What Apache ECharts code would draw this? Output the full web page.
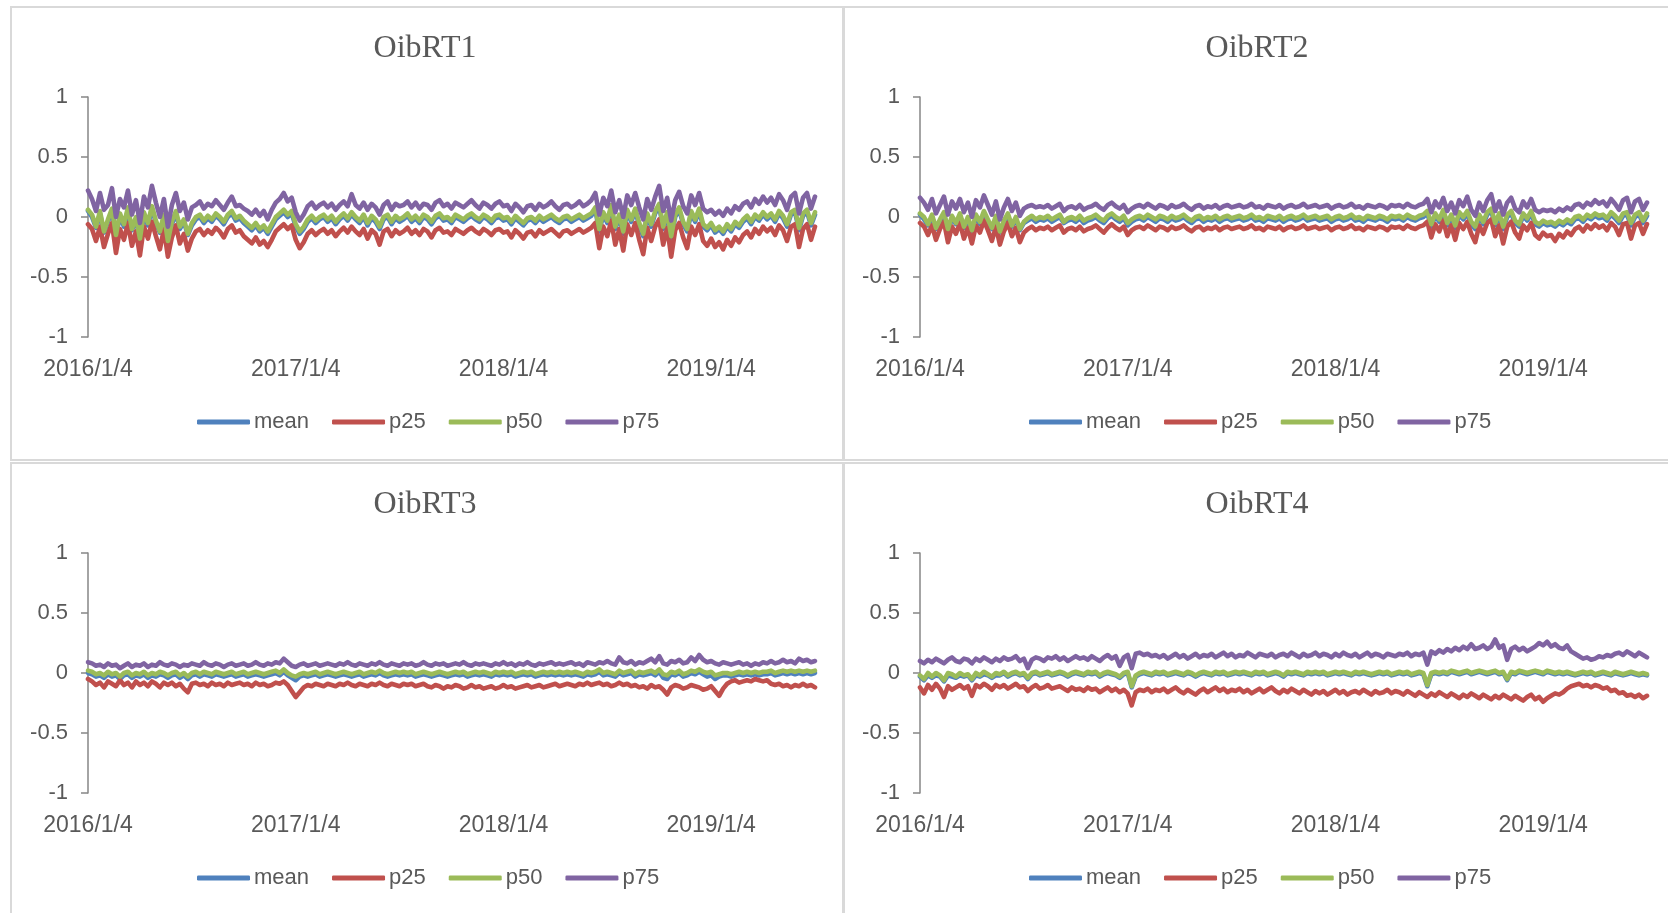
<!DOCTYPE html>
<html><head><meta charset="utf-8">
<script src="https://cdn.jsdelivr.net/npm/echarts@6/dist/echarts.min.js"></script>
<style>html,body{margin:0;padding:0;background:#fff}#c{width:1668px;height:913px}</style>
</head><body><div id="c"></div>
<script>
// ---- axis labels ----
const tickLabels = ['2016/1/4', '2017/1/4', '2018/1/4', '2019/1/4'];
const seriesNames = ['mean', 'p25', 'p50', 'p75'];
const panelTitles = ['OibRT1', 'OibRT2', 'OibRT3', 'OibRT4'];
// weekly sampling dates, anchored on Jan 4 of each year
const categories = [];
[2016, 2017, 2018, 2019].forEach(function (yr) {
  const n = yr === 2019 ? 27 : 52;
  for (let k = 0; k < n; k++) {
    const d = new Date(Date.UTC(yr, 0, 4 + 7 * k));
    categories.push(d.getUTCFullYear() + '/' + (d.getUTCMonth() + 1) + '/' + d.getUTCDate());
  }
});

// ---- OibRT1 ----
const oib1_mean = [
0.05,0.0,-0.09,0.03,-0.13,-0.04,0.05,-0.16,0.01,-0.08,0.06,-0.11,-0.02,-0.19,0.02,-0.07,0.07,-0.05,-0.13,0.0,
-0.21,-0.06,0.03,-0.1,-0.04,-0.15,-0.07,-0.02,0.0,-0.05,-0.01,-0.04,0.01,-0.02,-0.06,0.0,0.03,-0.03,-0.01,-0.05,
-0.08,-0.11,-0.07,-0.12,-0.09,-0.14,-0.08,-0.02,0.01,0.04,0.0,0.03,-0.08,-0.14,-0.1,-0.04,-0.01,-0.05,-0.02,0.0,
-0.04,-0.01,-0.06,-0.02,0.01,-0.03,0.02,-0.02,-0.05,0.0,-0.07,-0.01,-0.04,-0.1,-0.02,0.0,-0.06,-0.01,-0.04,-0.02,
0.01,-0.04,-0.01,-0.05,0.0,-0.02,-0.06,-0.01,0.01,-0.03,-0.02,-0.05,0.0,-0.02,-0.04,-0.01,0.01,-0.02,-0.04,0.0,
-0.02,-0.05,-0.01,0.0,-0.03,-0.02,-0.06,-0.01,-0.04,-0.07,-0.03,-0.02,-0.05,-0.01,-0.04,-0.02,0.0,-0.03,-0.05,-0.02,
-0.01,-0.04,-0.02,0.0,-0.03,-0.01,0.01,0.06,-0.12,0.02,-0.05,0.08,-0.1,0.0,-0.14,0.04,-0.04,0.05,-0.07,-0.16,
0.01,-0.08,0.03,0.09,-0.1,0.02,-0.18,0.0,0.06,-0.06,-0.12,0.03,-0.04,0.05,-0.08,-0.11,-0.07,-0.13,-0.1,-0.14,
-0.08,-0.12,-0.06,-0.09,-0.04,-0.01,-0.06,0.0,-0.03,0.02,-0.02,0.01,-0.04,0.03,-0.01,-0.08,0.02,0.04,-0.11,0.01,
0.04,-0.07,0.02];
const oib1_p25 = [
-0.06,-0.1,-0.2,-0.08,-0.25,-0.14,-0.05,-0.3,-0.1,-0.19,-0.05,-0.24,-0.12,-0.32,-0.08,-0.18,-0.04,-0.16,-0.27,-0.1,
-0.33,-0.17,-0.07,-0.22,-0.14,-0.28,-0.18,-0.12,-0.1,-0.15,-0.11,-0.14,-0.09,-0.12,-0.17,-0.1,-0.07,-0.13,-0.11,-0.16,
-0.19,-0.22,-0.17,-0.23,-0.2,-0.25,-0.19,-0.12,-0.09,-0.06,-0.1,-0.07,-0.19,-0.26,-0.21,-0.14,-0.11,-0.15,-0.12,-0.1,
-0.14,-0.11,-0.16,-0.12,-0.09,-0.13,-0.08,-0.12,-0.15,-0.1,-0.18,-0.11,-0.14,-0.23,-0.12,-0.1,-0.16,-0.11,-0.14,-0.12,
-0.09,-0.14,-0.11,-0.15,-0.1,-0.12,-0.17,-0.11,-0.09,-0.13,-0.12,-0.15,-0.1,-0.12,-0.14,-0.11,-0.09,-0.12,-0.14,-0.1,
-0.12,-0.15,-0.11,-0.1,-0.13,-0.12,-0.17,-0.11,-0.14,-0.18,-0.13,-0.12,-0.16,-0.11,-0.14,-0.12,-0.1,-0.13,-0.16,-0.12,
-0.11,-0.14,-0.12,-0.1,-0.13,-0.11,-0.09,-0.05,-0.26,-0.08,-0.16,-0.03,-0.23,-0.1,-0.28,-0.06,-0.15,-0.05,-0.19,-0.31,
-0.09,-0.2,-0.08,-0.02,-0.23,-0.09,-0.33,-0.11,-0.05,-0.17,-0.26,-0.08,-0.15,-0.06,-0.2,-0.24,-0.18,-0.25,-0.21,-0.27,
-0.19,-0.24,-0.17,-0.21,-0.15,-0.12,-0.17,-0.1,-0.14,-0.08,-0.12,-0.09,-0.15,-0.07,-0.11,-0.2,-0.08,-0.06,-0.25,-0.1,
-0.06,-0.19,-0.08];
const oib1_p50 = [
0.06,0.02,-0.08,0.05,-0.12,-0.02,0.07,-0.15,0.03,-0.06,0.08,-0.1,0.0,-0.18,0.04,-0.05,0.09,-0.03,-0.12,0.02,
-0.2,-0.04,0.05,-0.08,-0.02,-0.14,-0.05,0.0,0.02,-0.03,0.01,-0.02,0.03,0.0,-0.04,0.02,0.05,-0.01,0.01,-0.03,
-0.06,-0.09,-0.05,-0.1,-0.07,-0.12,-0.06,0.0,0.03,0.06,0.02,0.05,-0.06,-0.12,-0.08,-0.02,0.01,-0.03,0.0,0.02,
-0.02,0.01,-0.04,0.0,0.03,-0.01,0.04,0.0,-0.03,0.02,-0.05,0.01,-0.02,-0.08,0.0,0.02,-0.04,0.01,-0.02,0.0,
0.03,-0.02,0.01,-0.03,0.02,0.0,-0.04,0.01,0.03,-0.01,0.0,-0.03,0.02,0.0,-0.02,0.01,0.03,0.0,-0.02,0.02,
0.0,-0.03,0.01,0.02,-0.01,0.0,-0.04,0.01,-0.02,-0.05,-0.01,0.0,-0.03,0.01,-0.02,0.0,0.02,-0.01,-0.03,0.0,
0.01,-0.02,0.0,0.02,-0.01,0.01,0.03,0.08,-0.1,0.04,-0.03,0.1,-0.08,0.02,-0.12,0.06,-0.02,0.07,-0.05,-0.14,
0.03,-0.06,0.05,0.11,-0.08,0.04,-0.16,0.02,0.08,-0.04,-0.1,0.05,-0.02,0.07,-0.06,-0.09,-0.05,-0.11,-0.08,-0.12,
-0.06,-0.1,-0.04,-0.07,-0.02,0.01,-0.04,0.02,-0.01,0.04,0.0,0.03,-0.02,0.05,0.01,-0.06,0.04,0.06,-0.09,0.03,
0.06,-0.05,0.04];
const oib1_p75 = [
0.22,0.15,0.05,0.2,0.06,0.1,0.24,0.0,0.15,0.08,0.22,0.02,0.14,-0.05,0.17,0.08,0.26,0.12,0.0,0.15,
-0.08,0.1,0.2,0.05,0.12,-0.02,0.08,0.1,0.13,0.07,0.11,0.09,0.14,0.1,0.06,0.12,0.17,0.09,0.1,0.07,
0.05,0.02,0.06,0.01,0.05,-0.02,0.06,0.12,0.15,0.2,0.13,0.16,0.04,-0.03,0.02,0.09,0.12,0.07,0.1,0.12,
0.08,0.11,0.06,0.1,0.13,0.09,0.19,0.1,0.07,0.12,0.06,0.11,0.08,0.02,0.1,0.13,0.06,0.11,0.09,0.1,
0.13,0.08,0.12,0.07,0.11,0.1,0.06,0.12,0.14,0.09,0.11,0.07,0.12,0.1,0.08,0.11,0.14,0.1,0.07,0.12,
0.1,0.07,0.11,0.13,0.09,0.1,0.05,0.11,0.08,0.04,0.09,0.1,0.06,0.11,0.08,0.1,0.13,0.09,0.06,0.1,
0.11,0.08,0.1,0.13,0.09,0.11,0.14,0.2,0.02,0.16,0.09,0.22,0.04,0.14,0.0,0.18,0.1,0.2,0.08,-0.02,
0.15,0.06,0.17,0.26,0.05,0.16,-0.03,0.14,0.21,0.09,0.03,0.18,0.1,0.2,0.07,0.04,0.06,0.02,0.05,0.01,
0.07,0.03,0.09,0.06,0.11,0.13,0.08,0.15,0.11,0.17,0.12,0.16,0.1,0.19,0.14,0.06,0.17,0.2,0.03,0.16,
0.2,0.07,0.17];

// ---- OibRT2 ----
const oib2_mean = [
0.02,-0.02,-0.07,0.0,-0.1,-0.04,0.02,-0.11,-0.01,-0.06,0.01,-0.09,-0.02,-0.12,0.0,-0.06,0.03,-0.04,-0.1,-0.01,
-0.13,-0.05,0.01,-0.08,-0.02,-0.11,-0.05,-0.03,-0.01,-0.04,-0.02,-0.03,-0.01,-0.04,-0.02,0.0,-0.05,-0.03,-0.02,-0.04,
-0.01,-0.05,-0.03,-0.02,0.0,-0.03,-0.05,-0.01,0.01,-0.02,-0.04,-0.01,-0.07,-0.04,-0.02,-0.01,-0.03,0.0,-0.02,-0.04,
-0.01,-0.02,-0.04,-0.01,-0.03,-0.02,0.0,-0.03,-0.05,-0.02,-0.01,-0.04,-0.02,-0.03,-0.01,-0.04,-0.02,-0.01,-0.03,-0.02,
-0.01,-0.03,-0.02,0.0,-0.03,-0.02,-0.04,-0.01,-0.02,-0.03,-0.01,-0.04,-0.02,-0.01,-0.03,-0.02,0.0,-0.03,-0.02,-0.01,
-0.03,-0.02,-0.01,-0.04,-0.02,-0.01,-0.03,-0.02,0.0,-0.03,-0.02,-0.04,-0.01,-0.02,-0.03,-0.01,-0.02,-0.04,-0.01,-0.02,
-0.01,-0.03,0.0,-0.02,-0.03,-0.01,0.0,0.03,-0.08,0.01,-0.04,0.04,-0.07,0.0,-0.09,0.02,-0.02,0.03,-0.06,-0.1,
0.0,-0.06,0.02,0.05,-0.07,0.01,-0.1,0.0,0.03,-0.05,-0.08,0.01,-0.03,0.03,-0.06,-0.08,-0.05,-0.07,-0.06,-0.08,
-0.05,-0.07,-0.04,-0.06,-0.02,-0.01,-0.04,0.0,-0.02,0.01,-0.01,0.0,-0.03,0.02,-0.01,-0.05,0.01,0.02,-0.07,0.0,
0.02,-0.05,0.01];
const oib2_p25 = [
-0.05,-0.08,-0.15,-0.07,-0.19,-0.1,-0.04,-0.21,-0.08,-0.14,-0.05,-0.18,-0.09,-0.22,-0.07,-0.13,-0.03,-0.11,-0.2,-0.08,
-0.23,-0.12,-0.05,-0.16,-0.09,-0.21,-0.13,-0.1,-0.08,-0.11,-0.09,-0.1,-0.08,-0.11,-0.09,-0.07,-0.13,-0.1,-0.09,-0.11,
-0.08,-0.12,-0.1,-0.09,-0.07,-0.1,-0.13,-0.09,-0.06,-0.09,-0.11,-0.08,-0.15,-0.11,-0.09,-0.08,-0.1,-0.07,-0.09,-0.11,
-0.08,-0.09,-0.11,-0.08,-0.1,-0.09,-0.07,-0.1,-0.12,-0.09,-0.08,-0.11,-0.09,-0.1,-0.08,-0.11,-0.09,-0.08,-0.1,-0.09,
-0.08,-0.1,-0.09,-0.07,-0.1,-0.09,-0.11,-0.08,-0.09,-0.1,-0.08,-0.11,-0.09,-0.08,-0.1,-0.09,-0.07,-0.1,-0.09,-0.08,
-0.1,-0.09,-0.08,-0.11,-0.09,-0.08,-0.1,-0.09,-0.07,-0.1,-0.09,-0.11,-0.08,-0.09,-0.1,-0.08,-0.09,-0.11,-0.08,-0.09,
-0.08,-0.1,-0.07,-0.09,-0.1,-0.08,-0.07,-0.04,-0.17,-0.06,-0.12,-0.03,-0.16,-0.07,-0.19,-0.05,-0.1,-0.04,-0.14,-0.21,
-0.07,-0.14,-0.05,-0.02,-0.16,-0.07,-0.22,-0.08,-0.04,-0.13,-0.18,-0.07,-0.11,-0.05,-0.15,-0.18,-0.13,-0.16,-0.15,-0.2,
-0.14,-0.17,-0.12,-0.15,-0.1,-0.08,-0.12,-0.07,-0.1,-0.06,-0.09,-0.07,-0.11,-0.05,-0.08,-0.15,-0.06,-0.05,-0.18,-0.07,
-0.05,-0.14,-0.06];
const oib2_p50 = [
0.03,0.0,-0.06,0.02,-0.09,-0.02,0.04,-0.1,0.01,-0.05,0.03,-0.08,0.0,-0.11,0.02,-0.04,0.05,-0.02,-0.09,0.01,
-0.12,-0.03,0.03,-0.07,0.0,-0.1,-0.04,-0.01,0.01,-0.02,0.0,-0.01,0.01,-0.02,0.0,0.02,-0.04,-0.01,0.0,-0.02,
0.01,-0.03,-0.01,0.0,0.02,-0.01,-0.03,0.01,0.03,0.0,-0.02,0.01,-0.05,-0.02,0.0,0.01,-0.01,0.02,0.0,-0.02,
0.01,0.0,-0.02,0.01,-0.01,0.0,0.02,-0.01,-0.03,0.0,0.01,-0.02,0.0,-0.01,0.01,-0.02,0.0,0.01,-0.01,0.0,
0.01,-0.01,0.0,0.02,-0.01,0.0,-0.02,0.01,0.0,-0.01,0.01,-0.02,0.0,0.01,-0.01,0.0,0.02,-0.01,0.0,0.01,
-0.01,0.0,0.01,-0.02,0.0,0.01,-0.01,0.0,0.02,-0.01,0.0,-0.02,0.01,0.0,-0.01,0.01,0.0,-0.02,0.01,0.0,
0.01,-0.01,0.02,0.0,-0.01,0.01,0.02,0.05,-0.06,0.03,-0.02,0.06,-0.05,0.02,-0.07,0.04,0.0,0.05,-0.04,-0.08,
0.02,-0.04,0.04,0.07,-0.05,0.03,-0.08,0.02,0.05,-0.03,-0.06,0.03,-0.01,0.05,-0.04,-0.06,-0.03,-0.05,-0.04,-0.06,
-0.03,-0.05,-0.02,-0.04,0.0,0.01,-0.02,0.02,0.0,0.03,0.01,0.02,-0.01,0.04,0.01,-0.03,0.03,0.04,-0.05,0.02,
0.04,-0.03,0.03];
const oib2_p75 = [
0.16,0.12,0.06,0.15,0.03,0.1,0.17,0.02,0.13,0.07,0.15,0.04,0.12,0.0,0.14,0.08,0.18,0.1,0.02,0.13,
-0.02,0.08,0.15,0.05,0.12,0.01,0.07,0.09,0.1,0.08,0.09,0.08,0.1,0.07,0.09,0.11,0.05,0.08,0.09,0.07,
0.1,0.06,0.08,0.09,0.11,0.08,0.06,0.1,0.12,0.09,0.07,0.1,0.04,0.07,0.09,0.1,0.08,0.11,0.09,0.07,
0.1,0.09,0.07,0.1,0.08,0.09,0.11,0.08,0.06,0.09,0.1,0.07,0.09,0.08,0.1,0.07,0.09,0.1,0.08,0.09,
0.1,0.08,0.09,0.11,0.08,0.09,0.07,0.1,0.09,0.08,0.1,0.07,0.09,0.1,0.08,0.09,0.11,0.08,0.09,0.1,
0.08,0.09,0.1,0.07,0.09,0.1,0.08,0.09,0.11,0.08,0.09,0.07,0.1,0.09,0.08,0.1,0.09,0.07,0.1,0.09,
0.1,0.08,0.11,0.09,0.08,0.1,0.11,0.15,0.04,0.13,0.08,0.16,0.05,0.12,0.03,0.14,0.09,0.17,0.06,0.01,
0.12,0.05,0.14,0.19,0.05,0.13,0.02,0.12,0.16,0.07,0.04,0.13,0.08,0.15,0.06,0.04,0.06,0.05,0.06,0.04,
0.07,0.05,0.08,0.06,0.1,0.11,0.08,0.12,0.1,0.14,0.11,0.13,0.09,0.15,0.11,0.06,0.14,0.16,0.04,0.13,
0.15,0.06,0.12];

// ---- OibRT3 ----
const oib3_mean = [
0.0,-0.01,-0.03,-0.02,-0.04,-0.01,-0.03,-0.02,-0.05,-0.02,-0.01,-0.04,-0.02,-0.03,-0.01,-0.04,-0.02,-0.03,-0.01,-0.02,
-0.04,-0.02,-0.01,-0.04,-0.02,-0.05,-0.02,-0.01,-0.03,-0.01,-0.02,-0.03,-0.01,-0.02,-0.03,-0.02,-0.01,-0.03,-0.02,-0.01,
-0.03,-0.02,-0.01,-0.02,-0.03,-0.02,-0.01,0.0,-0.02,0.01,-0.02,-0.04,-0.06,-0.03,-0.02,-0.03,-0.02,-0.01,-0.03,-0.02,
-0.01,-0.02,-0.03,-0.02,-0.01,-0.02,-0.03,-0.02,-0.01,-0.03,-0.02,-0.01,-0.02,0.0,-0.02,-0.03,-0.02,-0.01,-0.02,-0.01,
-0.02,-0.01,-0.03,-0.02,-0.01,-0.02,-0.03,-0.02,-0.01,-0.02,-0.03,-0.02,-0.01,-0.02,-0.01,-0.03,-0.02,-0.01,-0.02,-0.01,
-0.02,-0.03,-0.01,-0.02,-0.01,-0.02,-0.01,-0.03,-0.02,-0.01,-0.02,-0.01,-0.03,-0.02,-0.01,-0.02,-0.01,-0.02,-0.01,-0.02,
-0.01,-0.02,-0.01,-0.02,-0.03,-0.01,-0.02,-0.01,0.01,-0.02,-0.01,-0.02,-0.03,0.0,-0.02,-0.01,0.0,-0.03,-0.01,-0.02,
-0.01,0.0,-0.02,0.01,-0.04,-0.05,-0.01,-0.02,0.0,-0.03,-0.02,0.0,-0.01,0.01,-0.01,-0.03,-0.02,-0.05,-0.03,-0.02,
-0.02,-0.03,-0.02,-0.01,-0.02,-0.01,-0.02,-0.01,-0.02,-0.01,-0.01,0.0,-0.02,-0.01,0.0,-0.01,0.0,-0.01,0.0,-0.01,
0.0,-0.01,0.0];
const oib3_p25 = [
-0.05,-0.07,-0.1,-0.08,-0.12,-0.07,-0.09,-0.11,-0.06,-0.1,-0.08,-0.12,-0.07,-0.1,-0.08,-0.11,-0.07,-0.09,-0.12,-0.08,
-0.1,-0.08,-0.11,-0.09,-0.13,-0.16,-0.09,-0.08,-0.1,-0.09,-0.11,-0.08,-0.1,-0.09,-0.11,-0.08,-0.1,-0.09,-0.08,-0.1,
-0.09,-0.11,-0.08,-0.1,-0.09,-0.11,-0.1,-0.08,-0.09,-0.07,-0.1,-0.15,-0.2,-0.16,-0.12,-0.1,-0.11,-0.09,-0.1,-0.11,
-0.09,-0.1,-0.11,-0.09,-0.1,-0.08,-0.1,-0.11,-0.09,-0.1,-0.11,-0.09,-0.1,-0.08,-0.1,-0.11,-0.09,-0.1,-0.11,-0.09,
-0.1,-0.09,-0.11,-0.1,-0.09,-0.11,-0.12,-0.1,-0.11,-0.13,-0.11,-0.12,-0.1,-0.11,-0.13,-0.12,-0.1,-0.12,-0.11,-0.13,
-0.12,-0.11,-0.13,-0.12,-0.1,-0.12,-0.11,-0.13,-0.12,-0.11,-0.1,-0.12,-0.11,-0.1,-0.12,-0.11,-0.1,-0.09,-0.11,-0.1,
-0.09,-0.1,-0.11,-0.09,-0.1,-0.08,-0.1,-0.09,-0.08,-0.1,-0.09,-0.11,-0.1,-0.08,-0.1,-0.09,-0.11,-0.1,-0.12,-0.11,
-0.13,-0.1,-0.12,-0.11,-0.14,-0.18,-0.12,-0.1,-0.11,-0.13,-0.12,-0.1,-0.11,-0.12,-0.14,-0.13,-0.11,-0.15,-0.19,-0.13,
-0.09,-0.07,-0.06,-0.08,-0.07,-0.06,-0.07,-0.05,-0.06,-0.07,-0.06,-0.09,-0.1,-0.09,-0.11,-0.1,-0.12,-0.1,-0.11,-0.09,
-0.11,-0.1,-0.12];
const oib3_p50 = [
0.02,0.01,-0.01,0.0,-0.02,0.01,-0.01,0.0,-0.03,0.0,0.01,-0.02,0.0,-0.01,0.01,-0.02,0.0,-0.01,0.01,0.0,
-0.02,0.0,0.01,-0.02,0.0,-0.03,0.0,0.01,-0.01,0.01,0.0,-0.01,0.01,0.0,-0.01,0.0,0.01,-0.01,0.0,0.01,
-0.01,0.0,0.01,0.0,-0.01,0.0,0.01,0.02,0.0,0.03,0.0,-0.02,-0.03,-0.01,0.0,-0.01,0.0,0.01,-0.01,0.0,
0.01,0.0,-0.01,0.0,0.01,0.0,-0.01,0.0,0.01,-0.01,0.0,0.01,0.0,0.02,0.0,-0.01,0.0,0.01,0.0,0.01,
0.0,0.01,-0.01,0.0,0.01,0.0,-0.01,0.0,0.01,0.0,-0.01,0.0,0.01,0.0,0.01,-0.01,0.0,0.01,0.0,0.01,
0.0,-0.01,0.01,0.0,0.01,0.0,0.01,-0.01,0.0,0.01,0.0,0.01,-0.01,0.0,0.01,0.0,0.01,0.0,0.01,0.0,
0.01,0.0,0.01,0.0,-0.01,0.01,0.0,0.01,0.03,0.0,0.01,0.0,-0.01,0.02,0.0,0.01,0.02,-0.01,0.01,0.0,
0.01,0.02,0.0,0.03,-0.01,-0.02,0.01,0.0,0.02,-0.01,0.0,0.02,0.01,0.03,0.01,0.0,0.01,-0.02,-0.01,0.0,
0.0,-0.01,0.0,0.01,0.0,0.01,0.0,0.01,0.0,0.01,0.01,0.02,0.0,0.01,0.02,0.01,0.02,0.01,0.02,0.01,
0.02,0.01,0.02];
const oib3_p75 = [
0.09,0.08,0.06,0.07,0.05,0.08,0.06,0.07,0.04,0.06,0.08,0.05,0.07,0.06,0.08,0.05,0.07,0.06,0.09,0.07,
0.06,0.08,0.07,0.05,0.07,0.06,0.08,0.07,0.06,0.09,0.07,0.06,0.08,0.07,0.05,0.07,0.08,0.06,0.07,0.08,
0.06,0.07,0.09,0.07,0.06,0.08,0.07,0.09,0.08,0.12,0.09,0.06,0.05,0.07,0.08,0.06,0.07,0.08,0.06,0.07,
0.08,0.07,0.06,0.08,0.07,0.09,0.07,0.06,0.08,0.07,0.06,0.08,0.07,0.09,0.07,0.06,0.08,0.07,0.06,0.08,
0.07,0.08,0.06,0.07,0.09,0.07,0.06,0.08,0.07,0.08,0.06,0.07,0.08,0.07,0.09,0.07,0.06,0.08,0.07,0.08,
0.07,0.06,0.08,0.07,0.09,0.07,0.08,0.06,0.08,0.07,0.09,0.07,0.06,0.08,0.07,0.08,0.09,0.07,0.08,0.07,
0.08,0.09,0.07,0.08,0.06,0.09,0.08,0.07,0.09,0.08,0.1,0.08,0.07,0.13,0.09,0.08,0.1,0.07,0.09,0.08,
0.1,0.12,0.09,0.14,0.08,0.07,0.1,0.09,0.11,0.08,0.09,0.13,0.1,0.15,0.11,0.09,0.1,0.08,0.07,0.09,
0.08,0.07,0.08,0.09,0.07,0.08,0.06,0.08,0.07,0.09,0.08,0.1,0.08,0.09,0.11,0.09,0.1,0.08,0.12,0.1,
0.11,0.09,0.1];

// ---- OibRT4 ----
const oib4_mean = [
-0.03,-0.06,-0.02,-0.04,-0.02,-0.03,-0.07,-0.02,-0.03,-0.04,-0.02,-0.03,-0.02,-0.06,-0.02,-0.03,-0.01,-0.02,-0.04,-0.02,
-0.02,0.0,-0.03,-0.01,0.0,-0.02,-0.01,-0.05,-0.01,0.0,-0.02,-0.01,0.0,-0.02,-0.01,0.0,-0.01,-0.03,-0.01,0.0,
-0.01,-0.02,0.0,-0.01,0.0,-0.03,-0.01,0.0,-0.01,-0.02,-0.04,-0.01,0.0,-0.12,-0.03,-0.01,0.0,-0.01,-0.02,0.0,
-0.01,0.0,-0.02,-0.01,0.0,-0.01,-0.02,0.0,-0.01,-0.03,-0.01,0.0,-0.01,-0.02,0.0,-0.01,0.0,-0.02,-0.01,0.0,
-0.01,0.0,-0.01,-0.02,0.0,-0.01,0.0,-0.02,-0.01,0.0,-0.01,-0.03,0.0,-0.01,0.0,-0.01,-0.02,0.0,-0.01,0.0,
-0.01,0.0,-0.02,-0.01,0.0,-0.01,0.0,-0.01,-0.02,0.0,-0.01,0.0,-0.01,-0.02,-0.01,0.0,-0.01,0.0,-0.02,-0.01,
0.0,-0.01,0.0,-0.02,-0.01,0.0,-0.01,-0.11,-0.01,0.0,-0.01,0.0,-0.01,0.01,0.0,-0.01,0.0,0.01,-0.01,0.0,
0.01,0.0,-0.01,0.0,0.01,-0.01,0.0,-0.06,0.0,-0.01,0.01,0.0,-0.01,0.0,0.01,0.0,-0.01,0.01,0.0,-0.01,
0.0,-0.01,0.0,-0.01,-0.02,-0.01,0.0,-0.01,0.0,-0.02,-0.01,0.0,-0.01,-0.02,0.0,-0.01,-0.02,-0.01,0.0,-0.01,
-0.02,-0.01,-0.02];
const oib4_p25 = [
-0.12,-0.17,-0.1,-0.14,-0.09,-0.13,-0.2,-0.11,-0.14,-0.12,-0.1,-0.13,-0.11,-0.19,-0.1,-0.12,-0.09,-0.11,-0.14,-0.1,
-0.12,-0.1,-0.13,-0.11,-0.09,-0.12,-0.11,-0.15,-0.12,-0.1,-0.13,-0.12,-0.1,-0.13,-0.12,-0.11,-0.13,-0.15,-0.12,-0.14,
-0.13,-0.15,-0.12,-0.14,-0.13,-0.16,-0.14,-0.12,-0.15,-0.13,-0.16,-0.14,-0.17,-0.27,-0.16,-0.14,-0.15,-0.13,-0.16,-0.14,
-0.15,-0.13,-0.16,-0.14,-0.12,-0.15,-0.17,-0.14,-0.16,-0.18,-0.15,-0.13,-0.16,-0.14,-0.12,-0.15,-0.13,-0.16,-0.14,-0.15,
-0.13,-0.16,-0.14,-0.17,-0.15,-0.13,-0.16,-0.14,-0.12,-0.15,-0.17,-0.14,-0.16,-0.13,-0.15,-0.17,-0.14,-0.16,-0.18,-0.15,
-0.17,-0.15,-0.18,-0.16,-0.14,-0.17,-0.15,-0.18,-0.16,-0.15,-0.17,-0.14,-0.16,-0.18,-0.15,-0.17,-0.16,-0.14,-0.17,-0.15,
-0.16,-0.18,-0.15,-0.17,-0.19,-0.16,-0.18,-0.2,-0.17,-0.19,-0.16,-0.18,-0.2,-0.17,-0.19,-0.21,-0.18,-0.2,-0.17,-0.19,
-0.21,-0.18,-0.2,-0.22,-0.19,-0.21,-0.18,-0.2,-0.22,-0.19,-0.21,-0.23,-0.2,-0.18,-0.22,-0.2,-0.24,-0.21,-0.19,-0.17,
-0.18,-0.16,-0.13,-0.11,-0.1,-0.09,-0.11,-0.1,-0.12,-0.1,-0.11,-0.13,-0.12,-0.15,-0.14,-0.17,-0.16,-0.19,-0.18,-0.2,
-0.18,-0.21,-0.19];
const oib4_p50 = [
-0.02,-0.05,0.0,-0.03,0.0,-0.02,-0.06,0.0,-0.01,-0.03,0.0,-0.02,-0.01,-0.05,0.0,-0.02,0.01,-0.01,-0.03,0.0,
-0.01,0.01,-0.02,0.0,0.01,-0.01,0.0,-0.04,0.0,0.01,-0.01,0.0,0.01,-0.01,0.0,0.01,0.0,-0.02,0.0,0.01,
0.0,-0.01,0.01,0.0,0.01,-0.02,0.0,0.01,0.0,-0.01,-0.03,0.0,0.01,-0.11,-0.02,0.0,0.01,0.0,-0.01,0.01,
0.0,0.01,-0.01,0.0,0.01,0.0,-0.01,0.01,0.0,-0.02,0.0,0.01,0.0,-0.01,0.01,0.0,0.01,-0.01,0.0,0.01,
0.0,0.01,0.0,-0.01,0.01,0.0,0.01,-0.01,0.0,0.01,0.0,-0.02,0.01,0.0,0.01,0.0,-0.01,0.01,0.0,0.01,
0.0,0.01,-0.01,0.0,0.01,0.0,0.01,0.0,-0.01,0.01,0.0,0.01,0.0,-0.01,0.0,0.01,0.0,0.01,-0.01,0.0,
0.01,0.0,0.01,-0.01,0.0,0.01,0.0,-0.1,0.0,0.01,0.0,0.01,0.0,0.02,0.01,0.0,0.01,0.02,0.0,0.01,
0.02,0.01,0.0,0.01,0.02,0.0,0.01,-0.05,0.01,0.0,0.02,0.01,0.0,0.01,0.02,0.01,0.0,0.02,0.01,0.0,
0.01,0.0,0.01,0.0,-0.01,0.0,0.01,0.0,0.01,-0.01,0.0,0.01,0.0,-0.01,0.01,0.0,-0.01,0.0,0.01,0.0,
-0.01,0.0,-0.01];
const oib4_p75 = [
0.1,0.08,0.11,0.09,0.12,0.1,0.08,0.11,0.13,0.1,0.09,0.12,0.11,0.08,0.12,0.1,0.13,0.11,0.09,0.12,
0.1,0.13,0.11,0.12,0.14,0.1,0.12,0.04,0.11,0.13,0.12,0.1,0.13,0.12,0.14,0.11,0.13,0.1,0.12,0.14,
0.12,0.13,0.11,0.14,0.12,0.1,0.13,0.15,0.12,0.14,0.06,0.13,0.15,0.04,0.16,0.17,0.15,0.16,0.14,0.15,
0.13,0.15,0.12,0.14,0.16,0.13,0.15,0.12,0.14,0.16,0.13,0.15,0.14,0.16,0.13,0.15,0.17,0.14,0.16,0.13,
0.15,0.14,0.17,0.15,0.13,0.16,0.15,0.14,0.16,0.13,0.15,0.16,0.14,0.17,0.15,0.13,0.16,0.14,0.15,0.17,
0.14,0.16,0.15,0.13,0.16,0.14,0.17,0.15,0.14,0.16,0.13,0.15,0.17,0.14,0.16,0.15,0.13,0.16,0.15,0.14,
0.16,0.15,0.17,0.14,0.16,0.15,0.17,0.07,0.18,0.16,0.19,0.17,0.2,0.18,0.21,0.19,0.22,0.2,0.24,0.2,
0.21,0.23,0.2,0.22,0.28,0.21,0.23,0.11,0.2,0.22,0.19,0.21,0.18,0.2,0.22,0.25,0.23,0.26,0.22,0.24,
0.21,0.2,0.23,0.18,0.16,0.14,0.12,0.13,0.11,0.12,0.14,0.13,0.15,0.14,0.16,0.17,0.15,0.18,0.16,0.14,
0.17,0.15,0.13];

const panelData = [
  [oib1_mean, oib1_p25, oib1_p50, oib1_p75],
  [oib2_mean, oib2_p25, oib2_p50, oib2_p75],
  [oib3_mean, oib3_p25, oib3_p50, oib3_p75],
  [oib4_mean, oib4_p25, oib4_p50, oib4_p75]
];
const colors = ['#4F81BD', '#C0504D', '#9BBB59', '#8064A2'];

const chart = echarts.init(document.getElementById('c'), null, {renderer: 'canvas'});
const font = 'Liberation Sans';
const textColor = '#595959';
const axisColor = '#868686';
const DX = 832, DY = 456;

const grids = [], xAxes = [], yAxes = [], series = [], titles = [], legends = [], graphics = [];
for (let k = 0; k < 4; k++) {
  const col = k % 2, row = Math.floor(k / 2);
  const ox = col * DX, oy = row * DY;
  graphics.push({
    type: 'rect', silent: true, z: -10,
    shape: {x: 11 + ox + (col ? 1 : 0), y: 7 + oy, width: col ? 840 : 832, height: row ? 470 : 453},
    style: {fill: '#ffffff', stroke: '#d9d9d9', lineWidth: 2}
  });
  grids.push({left: 88 + ox, top: 97 + oy, width: 727, height: 240, containLabel: false});
  xAxes.push({
    type: 'category', gridIndex: k, data: categories, boundaryGap: false,
    axisLine: {show: false, onZero: false}, axisTick: {show: false}, splitLine: {show: false},
    axisLabel: {
      interval: function (idx, val) { return tickLabels.indexOf(val) >= 0; },
      color: textColor, fontFamily: font, fontSize: 23, margin: 21
    }
  });
  yAxes.push({
    type: 'value', gridIndex: k, min: -1, max: 1, interval: 0.5,
    axisLine: {show: true, lineStyle: {color: axisColor, width: 1.5}},
    axisTick: {show: true, inside: false, length: 7, lineStyle: {color: axisColor, width: 1.5}},
    splitLine: {show: false},
    axisLabel: {color: textColor, fontFamily: font, fontSize: 22, margin: 20}
  });
  titles.push({
    text: panelTitles[k], left: 420 + ox, top: 28 + oy, textAlign: 'center',
    textStyle: {fontFamily: 'Liberation Serif', fontWeight: 'normal', fontSize: 32, color: textColor}
  });
  legends.push({
    data: seriesNames, left: 192 + ox, top: 406 + oy, orient: 'horizontal',
    itemWidth: 53, itemHeight: 5, itemGap: 23, icon: 'roundRect',
    textStyle: {fontFamily: font, fontSize: 22, color: textColor, padding: [0, 0, 0, -1]}
  });
  for (let s = 0; s < 4; s++) {
    series.push({
      name: seriesNames[s], type: 'line', xAxisIndex: k, yAxisIndex: k,
      data: panelData[k][s], symbol: 'none', showSymbol: false,
      itemStyle: {color: colors[s]},
      lineStyle: {color: colors[s], width: 4.6, join: 'round', cap: 'round'},
      emphasis: {disabled: true}, z: 2 + s
    });
  }
}

chart.setOption({
  backgroundColor: '#ffffff',
  animation: false,
  color: colors,
  title: titles,
  legend: legends,
  grid: grids,
  xAxis: xAxes,
  yAxis: yAxes,
  series: series,
  graphic: graphics
});
</script>
</body></html>
